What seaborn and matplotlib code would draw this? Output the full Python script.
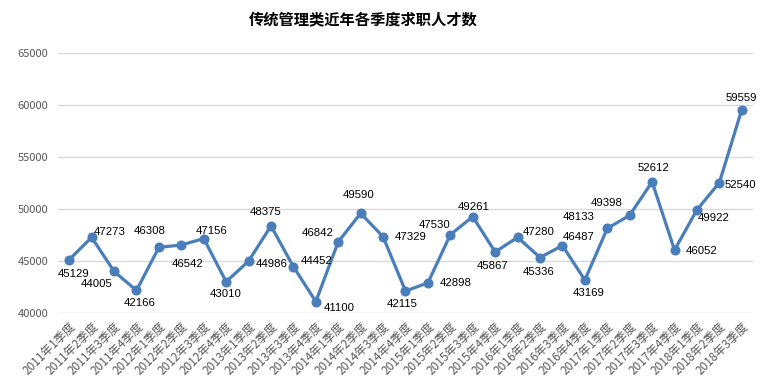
import matplotlib
matplotlib.use("Agg")
import matplotlib.pyplot as plt
import seaborn as sns
import pandas as pd

quarters = [f"{y}年{q}季度" for y in range(2011, 2019) for q in range(1, 5)][:31]
values = [45129, 47273, 44005, 42166, 46308, 46542, 47156, 43010,
          44986, 48375, 44452, 41100, 46842, 49590, 47329, 42115,
          42898, 47530, 49261, 45867, 47280, 45336, 46487, 43169,
          48133, 49398, 52612, 46052, 49922, 52540, 59559]
title = "传统管理类近年各季度求职人才数"
yticks = [40000, 45000, 50000, 55000, 60000, 65000]

# label offsets in pixels (dx, dy)
label_offsets = [(4, -14), (18, 5), (-17, -13), (3, -13), (-9, 16), (6, -19),
                 (8, 8), (-1, -12), (23, -3), (-5, 14), (23, 6), (23, -6),
                 (-21, 9), (-2, 18), (28, 0), (-3, -13), (28, 0), (-16, 10),
                 (1, 10), (-3, -14), (21, 5), (-1, -14), (16, 9), (4, -13),
                 (-29, 11), (-23, 12), (1, 14), (27, -1), (17, -8), (21, -2),
                 (0, 12)]

sns.set_theme(style="white")
plt.rcParams['font.family'] = ['Noto Sans CJK SC', 'DejaVu Sans']

df = pd.DataFrame({"季度": quarters, "人数": values})

fig = plt.figure(figsize=(7.68, 3.87), dpi=100)
ax = fig.add_axes([58/768, 1 - 313/387, (753 - 58)/768, (313 - 53)/387])

line_color = "#4A7EBB"
sns.pointplot(data=df, x="季度", y="人数", color=line_color, ax=ax,
              markers="o", linewidth=2.3, markersize=5.5, errorbar=None)

ax.set_ylim(40000, 65000)
ax.set_xlim(-0.5, len(quarters) - 0.5)
ax.set_yticks(yticks)
ax.set_yticklabels([str(v) for v in yticks], fontsize=8, color="#595959")
ax.yaxis.grid(True, color="#D9D9D9", linewidth=1)
ax.xaxis.grid(False)
for s in ax.spines.values():
    s.set_visible(False)
ax.tick_params(axis='y', length=0, pad=7)
ax.tick_params(axis='x', length=0, pad=5)
ax.set_xticks(range(len(quarters)))
ax.set_xticklabels(quarters, rotation=45, ha='right', rotation_mode='anchor',
                   fontsize=8.5, color="#595959")
ax.set_xlabel("")
ax.set_ylabel("")

for i, (v, (dx, dy)) in enumerate(zip(values, label_offsets)):
    ax.annotate(str(v), (i, v), xytext=(dx, dy), textcoords='offset pixels',
                ha='center', va='center', fontsize=8.2, color="#000000",
                family=['Liberation Sans', 'DejaVu Sans'])

fig.text(363/768, 1 - 20/387, title, ha='center', va='center',
         fontsize=11, fontweight='bold', color="#000000")

fig.savefig("out.png", dpi=100)
